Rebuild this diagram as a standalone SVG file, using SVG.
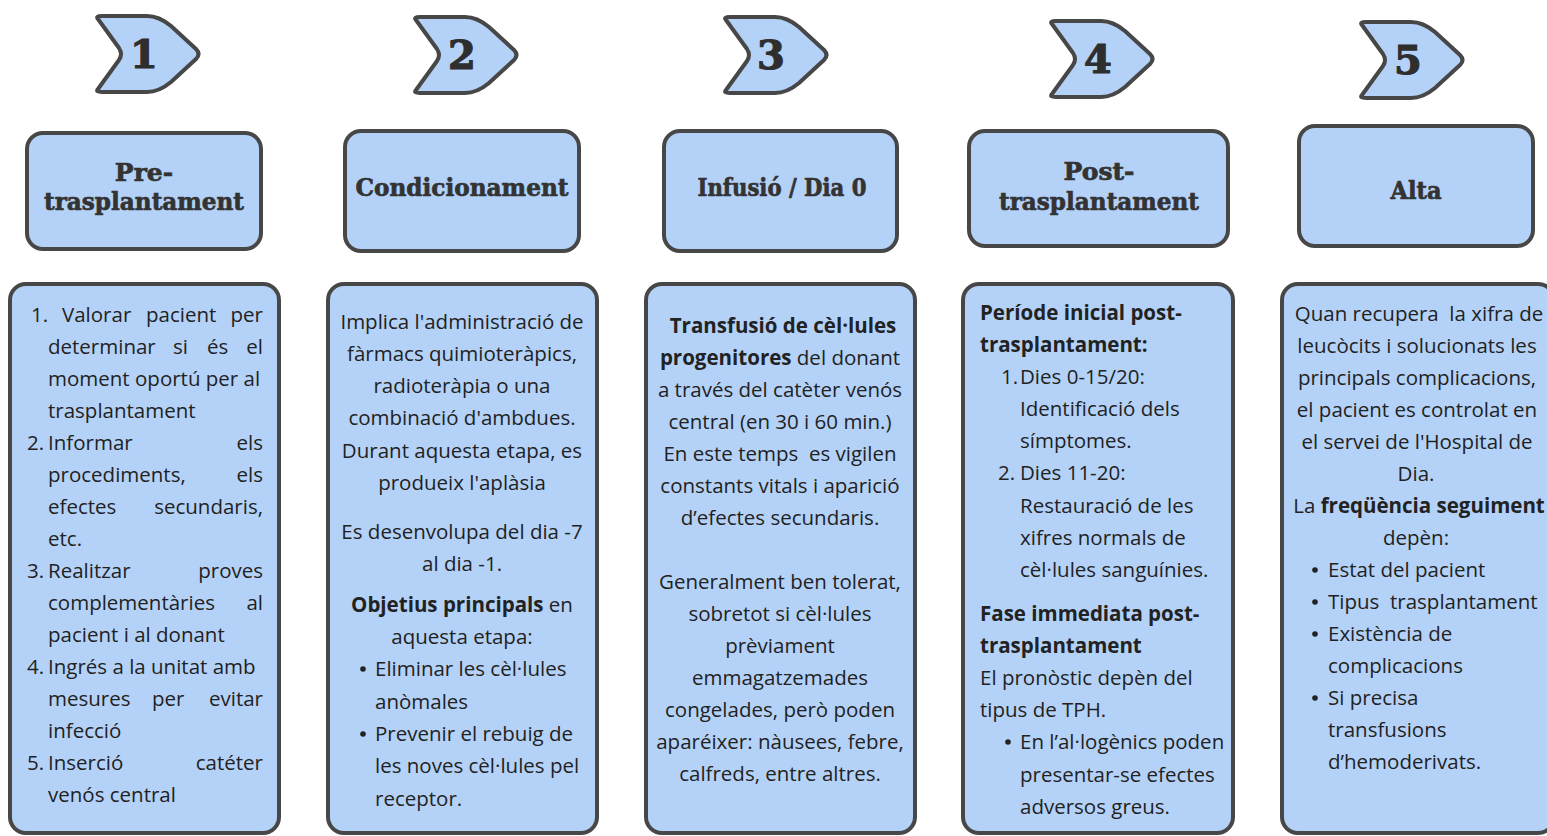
<svg xmlns="http://www.w3.org/2000/svg" width="1547" height="836" viewBox="0 0 1547 836">
<style>
.shape{fill:#b4d2f8;stroke:#474747;stroke-width:4;stroke-linejoin:round}
.num{font-family:"DejaVu Serif",serif;font-weight:bold;font-size:40px;fill:#2e2e2e;stroke:#2e2e2e;stroke-width:1.2;text-anchor:middle}
.title{font-family:"DejaVu Serif",serif;font-weight:bold;font-size:25px;fill:#333;stroke:#333;stroke-width:0.7;text-anchor:middle}
.body{font-family:"Open Sans","Noto Sans",sans-serif;font-size:20.5px;fill:#222}
.c{text-anchor:middle}
.e{text-anchor:end}
.b{font-weight:bold}
.dot{fill:#222}
</style>
<defs>
<path id="chev" d="M 7,5 Q 4,2 11,2 L 56,2 Q 68,2 80,12 L 105,35 Q 110,40 105,45 L 80,68 Q 68,78 56,78 L 11,78 Q 4,78 7,75 L 28,46 Q 32,40 28,34 Z"/>
</defs>

<g id="step1">
<use href="#chev" class="shape" transform="translate(91,14)"/>
<text class="num" x="144" y="68">1</text>
</g>
<g id="step2">
<use href="#chev" class="shape" transform="translate(409,15)"/>
<text class="num" x="462" y="69">2</text>
</g>
<g id="step3">
<use href="#chev" class="shape" transform="translate(719,15)"/>
<text class="num" x="771" y="69">3</text>
</g>
<g id="step4">
<use href="#chev" class="shape" transform="translate(1045,19)"/>
<text class="num" x="1098" y="73">4</text>
</g>
<g id="step5">
<use href="#chev" class="shape" transform="translate(1355,20)"/>
<text class="num" x="1408" y="74">5</text>
</g>

<g id="title1">
<rect class="shape" x="27" y="133" width="234" height="116" rx="16"/>
<text class="title" x="144" y="181">Pre-</text>
<text class="title" x="144" y="210" textLength="200" lengthAdjust="spacingAndGlyphs">trasplantament</text>
</g>
<g id="title2">
<rect class="shape" x="345" y="131" width="234" height="120" rx="16"/>
<text class="title" x="462" y="196" textLength="213" lengthAdjust="spacingAndGlyphs">Condicionament</text>
</g>
<g id="title3">
<rect class="shape" x="664" y="131" width="233" height="120" rx="16"/>
<text class="title" x="782" y="196" textLength="169" lengthAdjust="spacingAndGlyphs">Infusió / Dia 0</text>
</g>
<g id="title4">
<rect class="shape" x="969" y="131" width="259" height="115" rx="16"/>
<text class="title" x="1099" y="180">Post-</text>
<text class="title" x="1099" y="210" textLength="200" lengthAdjust="spacingAndGlyphs">trasplantament</text>
</g>
<g id="title5">
<rect class="shape" x="1299" y="126" width="234" height="120" rx="16"/>
<text class="title" x="1416" y="199" textLength="51" lengthAdjust="spacingAndGlyphs">Alta</text>
</g>

<g id="box1">
<rect class="shape" x="10" y="284" width="269" height="549" rx="16"/>
<g class="body">
<text x="31" y="322">1.</text><text x="62" y="322">Valorar</text><text x="146" y="322">pacient</text><text class="e" x="263" y="322">per</text>
<text x="48" y="354">determinar</text><text x="173" y="354">si</text><text x="207" y="354">és</text><text class="e" x="263" y="354">el</text>
<text x="48" y="386">moment oportú per al</text>
<text x="48" y="418">trasplantament</text>
<text x="27" y="450">2.</text><text x="48" y="450">Informar</text><text class="e" x="263" y="450">els</text>
<text x="48" y="482">procediments,</text><text class="e" x="263" y="482">els</text>
<text x="48" y="514">efectes</text><text class="e" x="263" y="514">secundaris,</text>
<text x="48" y="546">etc.</text>
<text x="27" y="578">3.</text><text x="48" y="578">Realitzar</text><text class="e" x="263" y="578">proves</text>
<text x="48" y="610">complementàries</text><text class="e" x="263" y="610">al</text>
<text x="48" y="642">pacient i al donant</text>
<text x="27" y="674">4.</text><text x="48" y="674">Ingrés a la unitat amb</text>
<text x="48" y="706">mesures</text><text x="152" y="706">per</text><text class="e" x="263" y="706">evitar</text>
<text x="48" y="738">infecció</text>
<text x="27" y="770">5.</text><text x="48" y="770">Inserció</text><text class="e" x="263" y="770">catéter</text>
<text x="48" y="802">venós central</text>
</g>
</g>

<g id="box2">
<rect class="shape" x="328" y="284" width="269" height="549" rx="16"/>
<g class="body">
<text class="c" x="462" y="329">Implica l'administració de</text>
<text class="c" x="462" y="361">fàrmacs quimioteràpics,</text>
<text class="c" x="462" y="393">radioteràpia o una</text>
<text class="c" x="462" y="425">combinació d'ambdues.</text>
<text class="c" x="462" y="458">Durant aquesta etapa, es</text>
<text class="c" x="462" y="490">produeix l'aplàsia</text>
<text class="c" x="462" y="539">Es desenvolupa del dia -7</text>
<text class="c" x="462" y="571">al dia -1.</text>
<text class="c" x="462" y="612"><tspan class="b">Objetius principals</tspan> en</text>
<text class="c" x="462" y="644">aquesta etapa:</text>
<circle class="dot" cx="363" cy="669" r="2.8"/><text x="375" y="676">Eliminar les cèl·lules</text>
<text x="375" y="709">anòmales</text>
<circle class="dot" cx="363" cy="734" r="2.8"/><text x="375" y="741">Prevenir el rebuig de</text>
<text x="375" y="773">les noves cèl·lules pel</text>
<text x="375" y="806">receptor.</text>
</g>
</g>

<g id="box3">
<rect class="shape" x="646" y="284" width="269" height="549" rx="16"/>
<g class="body">
<text class="c b" x="783" y="333">Transfusió de cèl·lules</text>
<text class="c" x="780" y="365"><tspan class="b">progenitores</tspan> del donant</text>
<text class="c" x="780" y="397">a través del catèter venós</text>
<text class="c" x="780" y="429">central (en 30 i 60 min.)</text>
<text class="c" x="780" y="461" xml:space="preserve">En este temps  es vigilen</text>
<text class="c" x="780" y="493">constants vitals i aparició</text>
<text class="c" x="780" y="525">d’efectes secundaris.</text>
<text class="c" x="780" y="589">Generalment ben tolerat,</text>
<text class="c" x="780" y="621">sobretot si cèl·lules</text>
<text class="c" x="780" y="653">prèviament</text>
<text class="c" x="780" y="685">emmagatzemades</text>
<text class="c" x="780" y="717">congelades, però poden</text>
<text class="c" x="780" y="749">aparéixer: nàusees, febre,</text>
<text class="c" x="780" y="781">calfreds, entre altres.</text>
</g>
</g>

<g id="box4">
<rect class="shape" x="963" y="284" width="270" height="549" rx="16"/>
<g class="body">
<text class="b" x="980" y="320">Període inicial post-</text>
<text class="b" x="980" y="352">trasplantament:</text>
<text x="1001" y="384">1.</text><text x="1020" y="384">Dies 0-15/20:</text>
<text x="1020" y="416">Identificació dels</text>
<text x="1020" y="448">símptomes.</text>
<text x="998" y="480">2.</text><text x="1020" y="480">Dies 11-20:</text>
<text x="1020" y="513">Restauració de les</text>
<text x="1020" y="545">xifres normals de</text>
<text x="1020" y="577">cèl·lules sanguínies.</text>
<text class="b" x="980" y="621">Fase immediata post-</text>
<text class="b" x="980" y="653">trasplantament</text>
<text x="980" y="685">El pronòstic depèn del</text>
<text x="980" y="717">tipus de TPH.</text>
<circle class="dot" cx="1008" cy="742" r="2.8"/><text x="1020" y="749">En l’al·logènics poden</text>
<text x="1020" y="782">presentar-se efectes</text>
<text x="1020" y="814">adversos greus.</text>
</g>
</g>

<g id="box5">
<rect class="shape" x="1282" y="284" width="272" height="549" rx="16"/>
<g class="body">
<text class="c" x="1419" y="321" xml:space="preserve">Quan recupera  la xifra de</text>
<text class="c" x="1417" y="353">leucòcits i solucionats les</text>
<text class="c" x="1417" y="385">principals complicacions,</text>
<text class="c" x="1417" y="417">el pacient es controlat en</text>
<text class="c" x="1417" y="449">el servei de l'Hospital de</text>
<text class="c" x="1416" y="481">Dia.</text>
<text class="c" x="1419" y="513">La <tspan class="b">freqüència seguiment</tspan></text>
<text class="c" x="1416" y="545">depèn:</text>
<circle class="dot" cx="1315" cy="570" r="2.8"/><text x="1328" y="577">Estat del pacient</text>
<circle class="dot" cx="1315" cy="602" r="2.8"/><text x="1328" y="609" xml:space="preserve">Tipus  trasplantament</text>
<circle class="dot" cx="1315" cy="634" r="2.8"/><text x="1328" y="641">Existència de</text>
<text x="1328" y="673">complicacions</text>
<circle class="dot" cx="1315" cy="698" r="2.8"/><text x="1328" y="705">Si precisa</text>
<text x="1328" y="737">transfusions</text>
<text x="1328" y="769">d’hemoderivats.</text>
</g>
</g>
</svg>
